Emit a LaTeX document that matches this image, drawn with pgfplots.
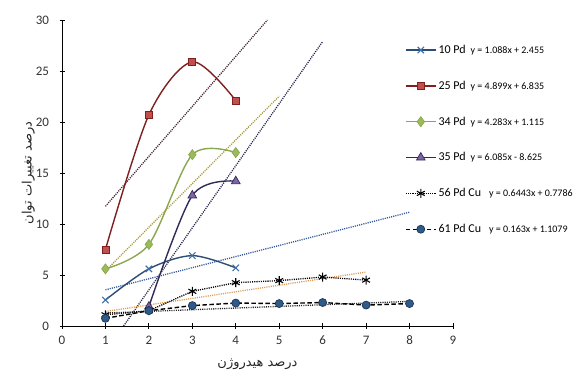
\documentclass[border=0pt]{standalone}
\usepackage{pgfplots}
\pgfplotsset{compat=1.18}
\usepackage{fontspec}
\setmainfont{Carlito}
\newfontfamily\arabicfont[Script=Arabic]{DejaVu Sans}
\TeXXeTstate=1
\definecolor{c10}{HTML}{2C4D75}
\definecolor{m10}{HTML}{3E6FA8}
\definecolor{c25}{HTML}{7F1F1F}
\definecolor{m25}{HTML}{C0504D}
\definecolor{c34}{HTML}{8AA64F}
\definecolor{m34}{HTML}{9BBB59}
\definecolor{c35}{HTML}{2E2A5A}
\definecolor{m35}{HTML}{8064A2}
\definecolor{m61}{HTML}{2F5A8A}
\definecolor{t10}{HTML}{2F559A}
\definecolor{t25}{HTML}{3E2232}
\definecolor{t34}{HTML}{A89A38}
\definecolor{t35}{HTML}{25254A}
\definecolor{t56}{HTML}{DC9A55}
\definecolor{t61}{HTML}{252525}
\begin{document}
\begin{tikzpicture}
\useasboundingbox (0,0) rectangle (577pt,385pt);
\begin{axis}[
  at={(62pt,59pt)}, anchor=south west,
  scale only axis, width=391pt, height=306pt,
  xmin=0, xmax=9, ymin=0, ymax=30,
  xtick={0,1,...,9}, ytick={0,5,...,30},
  axis x line*=bottom, axis y line*=left,
  axis line style={-, black, line width=0.9pt},
  tick style={black, line width=0.8pt},
  major tick length=5pt,
  tick align=center,
  /pgf/number format/assume math mode=true,
  tick label style={font=\fontsize{13}{15}\selectfont, text=black!80},
  xticklabel style={yshift=-4pt},
  yticklabel style={xshift=-7pt},
  xlabel={\arabicfont\fontsize{13}{15}\selectfont\beginR درصد هیدروژن\endR},
  ylabel={\arabicfont\fontsize{13}{15}\selectfont\beginR درصد تغییرات توان\endR},
  xlabel style={yshift=-7pt, text=black!85},
  ylabel style={yshift=-6pt, text=black!85},
  legend style={at={(0.877,0.925)}, anchor=north west, draw=none, fill=none,
    row sep=22pt, font=\fontsize{12}{14}\selectfont, cells={anchor=west},
    inner sep=0pt},
  legend image code/.code={\draw[mark repeat=2,mark phase=2,#1] plot coordinates {(0pt,0pt) (15pt,0pt) (30pt,0pt)};},
  every axis plot/.append style={line width=1.4pt},
]
% trend lines
\addplot[forget plot, t10, line width=1.3pt, dash pattern=on 1.1pt off 1.1pt] coordinates {(1,3.543) (8,11.159)};
\addplot[forget plot, t25, line width=1.3pt, dash pattern=on 1.1pt off 1.1pt] coordinates {(1,11.734) (4.7285,30)};
\addplot[forget plot, t34, line width=1.3pt, dash pattern=on 1.1pt off 1.1pt] coordinates {(1,5.398) (5,22.530)};
\addplot[forget plot, t35, line width=1.3pt, dash pattern=on 1.1pt off 1.1pt] coordinates {(1.4174,0) (6,27.885)};
\addplot[forget plot, t56, line width=1.3pt, dash pattern=on 1.1pt off 1.1pt] coordinates {(1,1.4229) (7,5.2887)};
\addplot[forget plot, t61, line width=1.3pt, dash pattern=on 1.1pt off 1.1pt] coordinates {(1,1.2709) (8,2.4119)};
% data
\addplot[c10, smooth, mark=x, mark size=4.5pt, mark options={m10, solid, line width=1.1pt}]
  coordinates {(1,2.55) (2,5.6) (3,6.9) (4,5.7)};
\addlegendentry{10 Pd\hspace{5pt}{\fontsize{10}{12}\selectfont y = 1.088x + 2.455}}
\addplot[c25, smooth, mark=square*, mark size=3.5pt, mark options={fill=m25, draw=c25, line width=0.7pt}]
  coordinates {(1,7.5) (2,20.7) (3,25.9) (4,22.1)};
\addlegendentry{25 Pd\hspace{5pt}{\fontsize{10}{12}\selectfont y = 4.899x + 6.835}}
\addplot[c34, smooth, mark=diamond*, mark size=5pt, mark options={fill=m34, draw=c34, line width=0.7pt}]
  coordinates {(1,5.6) (2,8.0) (3,16.8) (4,17.0)};
\addlegendentry{34 Pd\hspace{5pt}{\fontsize{10}{12}\selectfont y = 4.283x + 1.115}}
\addplot[c35, smooth, mark=triangle*, mark size=5pt, mark options={fill=m35, draw=c35, line width=0.7pt}]
  coordinates {(2,1.9) (3,12.8) (4,14.2)};
\addlegendentry{35 Pd\hspace{5pt}{\fontsize{10}{12}\selectfont y = 6.085x - 8.625}}
\addplot[black, line width=1.3pt, dash pattern=on 1.1pt off 1.1pt, mark=asterisk, mark size=4.5pt, mark options={black, solid, line width=1.1pt}]
  coordinates {(1,1.1) (2,1.5) (3,3.4) (4,4.25) (5,4.45) (6,4.8) (7,4.5)};
\addlegendentry{56 Pd Cu\hspace{8pt}{\fontsize{10}{12}\selectfont y = 0.6443x + 0.7786}}
\addplot[black, dash pattern=on 4.5pt off 2.5pt, mark=*, mark size=4pt, mark options={fill=m61, draw=m61!60!black, solid, line width=0.7pt}]
  coordinates {(1,0.75) (2,1.5) (3,2.0) (4,2.25) (5,2.2) (6,2.3) (7,2.05) (8,2.2)};
\addlegendentry{61 Pd Cu\hspace{8pt}{\fontsize{10}{12}\selectfont y = 0.163x + 1.1079}}
\end{axis}
\end{tikzpicture}
\end{document}
